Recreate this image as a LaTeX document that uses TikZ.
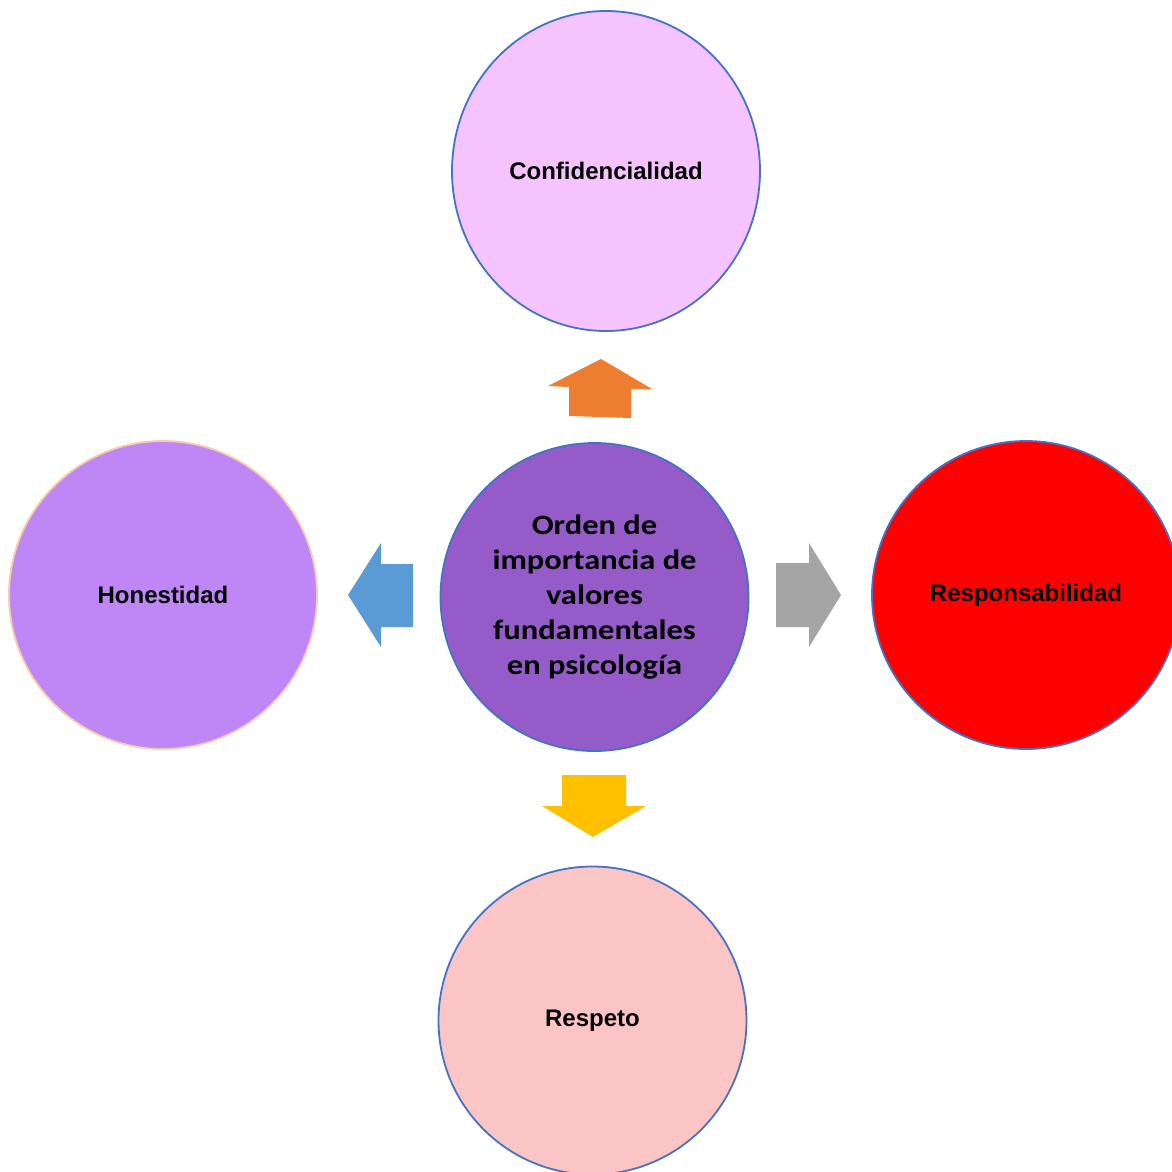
\documentclass[tikz,border=0pt]{standalone}
\usepackage{fontspec}
\usetikzlibrary{shapes.geometric}
\setmainfont{Liberation Sans}
\newfontfamily\calib[FakeStretch=1.16]{Carlito}
\definecolor{bordblue}{HTML}{4472C4}
\definecolor{peach}{HTML}{F8CBAD}
\definecolor{topfill}{HTML}{F5C3FD}
\definecolor{midfill}{HTML}{955BC8}
\definecolor{leftfill}{HTML}{BF87F5}
\definecolor{rightfill}{HTML}{FF0000}
\definecolor{botfill}{HTML}{FCC5C5}
\definecolor{arrorange}{HTML}{ED7D31}
\definecolor{arrblue}{HTML}{5B9BD5}
\definecolor{arrgray}{HTML}{A5A5A5}
\definecolor{arryellow}{HTML}{FFC000}
\begin{document}
\begin{tikzpicture}[x=1pt,y=-1pt,
  valuebox/.style={circle, draw=bordblue, line width=1.8pt, minimum size=308pt, inner sep=0pt,
    font=\fontsize{24}{28}\selectfont\bfseries, text=black}]
\useasboundingbox (0,0) rectangle (1172,1171);
\clip (0,0) rectangle (1172,1171);
\fill[white] (0,0) rectangle (1172,1171);
% circles
\node[ellipse, draw=bordblue, line width=1.8pt, fill=topfill, minimum width=308pt, minimum height=320pt,
  inner sep=0pt, font=\fontsize{24}{28}\selectfont\bfseries] (conf) at (606,171) {Confidencialidad};
\node[valuebox, fill=midfill, font=\calib\fontsize{28}{35}\selectfont\bfseries, align=center] (center) at (594.5,597)
  {Orden de\\importancia de\\valores\\fundamentales\\en psicología};
\node[valuebox, fill=leftfill, draw=peach] (hon) at (163,595) {Honestidad};
\node[valuebox, fill=rightfill] (resp) at (1026,595) {Responsabilidad};
\node[valuebox, fill=botfill] (resptc) at (592.5,1020.5) {Respeto};
% block arrows
\fill[arrorange] (601,359) -- (652,389) -- (631,389) -- (631,418) -- (569,416) -- (569,387) -- (548,386) -- cycle;
\fill[arrblue] (348,595) -- (381,543) -- (381,564) -- (413,564) -- (413,627) -- (381,627) -- (381,647) -- cycle;
\fill[arrgray] (841,595) -- (809,543) -- (809,563) -- (776,563) -- (776,627) -- (809,627) -- (809,647) -- cycle;
\fill[arryellow] (593,837) -- (646,806) -- (626,806) -- (626,775) -- (562,775) -- (562,806) -- (542,806) -- cycle;
\end{tikzpicture}
\end{document}
